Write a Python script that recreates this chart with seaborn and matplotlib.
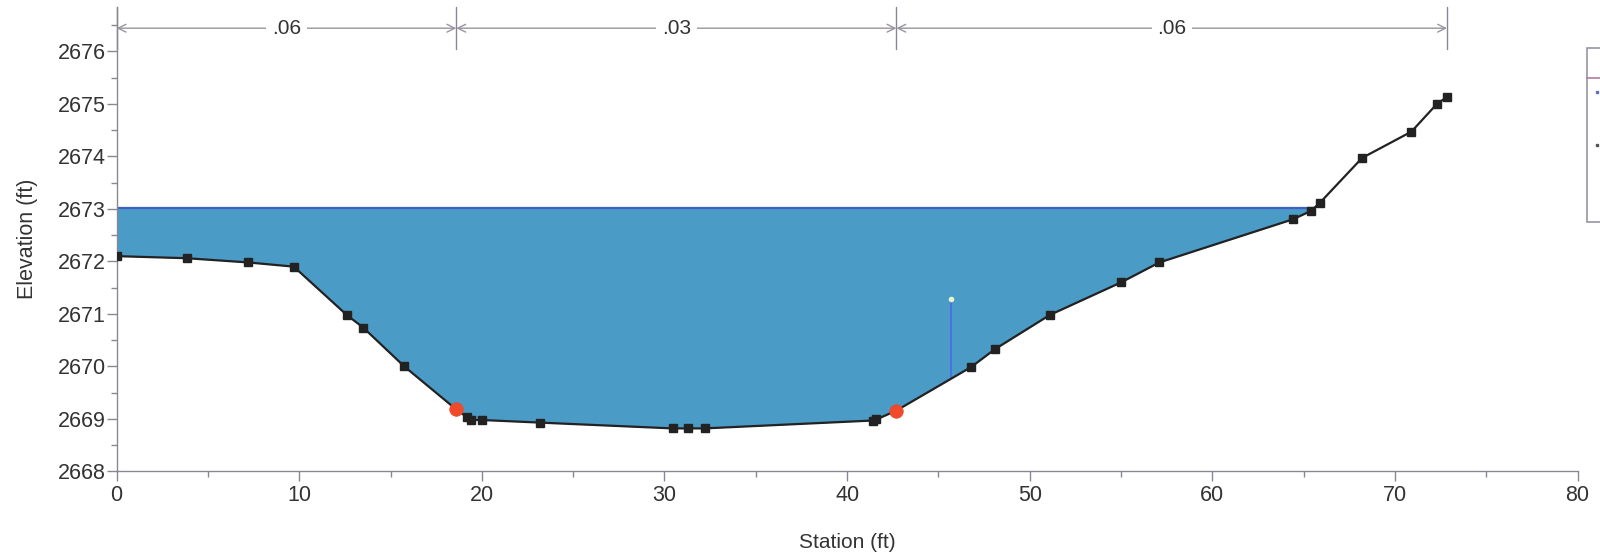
import numpy as np
import matplotlib
matplotlib.use('Agg')
import matplotlib.pyplot as plt
import seaborn as sns
from matplotlib.patches import Rectangle
from matplotlib.lines import Line2D

# Ground profile (station, elevation)
station = [0, 3.85, 7.2, 9.7, 12.6, 13.5, 15.75, 18.6, 19.16, 19.4, 20.0, 23.2,
           30.45, 31.3, 32.2, 41.4, 41.6, 42.7, 46.8, 48.1, 51.1, 55.0, 57.1,
           64.4, 65.4, 65.9, 68.2, 70.9, 72.3, 72.85]
elevation = [2672.1, 2672.06, 2671.98, 2671.9, 2670.98, 2670.74, 2670.0, 2669.18,
             2669.04, 2668.98, 2668.98, 2668.93, 2668.82, 2668.82, 2668.82,
             2668.97, 2668.99, 2669.16, 2669.99, 2670.33, 2670.98, 2671.6,
             2671.98, 2672.8, 2672.96, 2673.12, 2673.97, 2674.47, 2675.0, 2675.13]
ground_points = [True] * len(station)
ground_points[7] = False   # bank stations drawn as red circles instead
ground_points[17] = False

bank_station = [18.6, 42.7]
bank_elev = [2669.18, 2669.16]

water_surface = 2673.02
velocity_station = 45.7
velocity_range = [2669.78, 2671.29]

# Manning's n regions
n_breaks = [0, 18.6, 42.7, 72.85]
n_values = ['.06', '.03', '.06']

sns.set_style('ticks')
plt.rcParams['font.family'] = ['Liberation Sans', 'DejaVu Sans']

fig = plt.figure(figsize=(16, 5.55), dpi=100)
ax = fig.add_axes([0.0729, 0.1505, 0.9131, 0.8375])

st = np.array(station)
el = np.array(elevation)

# water fill between ground and water surface
ax.fill_between(st, el, water_surface, where=el <= water_surface,
                interpolate=True, color='#4b9bc7', linewidth=0, zorder=1)
# water surface line up to where it meets the ground
idx = np.where(el > water_surface)[0][0]
x_end = np.interp(water_surface, [el[idx - 1], el[idx]], [st[idx - 1], st[idx]])
ax.plot([0, x_end], [water_surface, water_surface], color='#3f5fc4', lw=1.6, zorder=2)

# velocity indicator
ax.plot([velocity_station, velocity_station], velocity_range, color='#4a72e0', lw=1.5, zorder=2)
ax.plot([velocity_station], [velocity_range[1]], 'o', color='#e8f4c8', ms=3, zorder=3)

# ground line
sns.lineplot(x=station, y=elevation, ax=ax, color='#222222', lw=1.6,
             sort=False, zorder=4)
ax.plot(st[ground_points], el[ground_points], 's', color='#222222', ms=6, zorder=5)
sns.scatterplot(x=bank_station, y=bank_elev, ax=ax, color='#f04a2a', s=95,
                edgecolor='#e84a2c', linewidth=0.5, zorder=6)

ax.set_xlim(0, 80)
ax.set_ylim(2668, 2676.85)
ax.set_xticks(np.arange(0, 81, 10))
ax.set_xticks(np.arange(0, 81, 5), minor=True)
ax.set_yticks(np.arange(2668, 2677, 1))
ax.set_yticks(np.arange(2668, 2676.6, 0.5), minor=True)

for s in ['top', 'right']:
    ax.spines[s].set_visible(False)
for s in ['left', 'bottom']:
    ax.spines[s].set_color('#8a8794')
    ax.spines[s].set_linewidth(1.0)
ax.tick_params(which='major', length=7, width=1, color='#8a8794',
               labelsize=15.5, labelcolor='#333333', pad=1)
ax.tick_params(axis='x', which='major', pad=3)
ax.tick_params(which='minor', length=4, width=1, color='#8a8794')

ax.set_xlabel('Station (ft)', fontsize=15, color='#333333', labelpad=19)
ax.set_ylabel('Elevation (ft)', fontsize=15.5, color='#333333', labelpad=14)

# Manning's n dimension lines along the top
y_dim = 2676.44
for xb in n_breaks:
    ax.plot([xb, xb], [2676.04, 2676.85], color='#8a8794', lw=1, clip_on=False, zorder=3)
for i, label in enumerate(n_values):
    x0, x1 = n_breaks[i], n_breaks[i + 1]
    ax.annotate('', xy=(x0, y_dim), xytext=(x1, y_dim),
                arrowprops=dict(arrowstyle='<->', color='#99959f', lw=1,
                                shrinkA=0, shrinkB=0, mutation_scale=14),
                annotation_clip=False)
    ax.text((x0 + x1) / 2, y_dim, label, ha='center', va='center', fontsize=15,
            color='#333333', bbox=dict(facecolor='white', edgecolor='none', pad=4),
            zorder=4)

# legend box, cut off at the right edge of the figure
fig.patches.append(Rectangle((1587 / 1600, 1 - 222 / 555), 0.02, 174 / 555,
                             transform=fig.transFigure, facecolor='white',
                             edgecolor='#9a94a8', lw=1.2))
fig.lines.append(Line2D([1587 / 1600, 1.0], [1 - 78 / 555, 1 - 78 / 555],
                        transform=fig.transFigure, color='#b07ca0', lw=1.2))
fig.lines.append(Line2D([1597 / 1600], [1 - 92 / 555], marker='s', ms=2,
                        transform=fig.transFigure, color='#6070c0'))
fig.lines.append(Line2D([1597 / 1600], [1 - 145 / 555], marker='s', ms=2,
                        transform=fig.transFigure, color='#555555'))

plt.savefig('out.png', dpi=100)
